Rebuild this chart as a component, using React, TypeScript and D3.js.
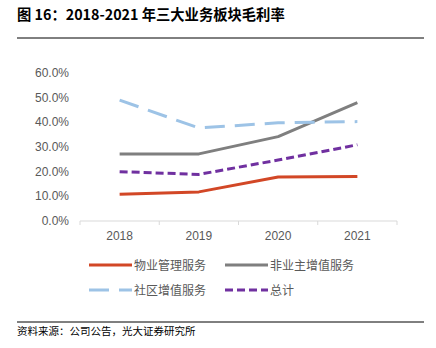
import React from "react";
import * as d3 from "d3";

const years = ["2018", "2019", "2020", "2021"];
const seriesNames = ["物业管理服务", "非业主增值服务", "社区增值服务", "总计"];
const propertyMgmt = [10.8, 11.8, 17.8, 18.0];
const nonOwnerVAS = [27.2, 27.2, 34.2, 48.0];
const communityVAS = [49.0, 37.7, 39.8, 40.3];
const total = [20.0, 18.9, 24.7, 30.9];
const yTicks = [0, 10, 20, 30, 40, 50, 60];

const styles = [
  { color: "#D24726", dash: "none" },
  { color: "#7F7F7F", dash: "none" },
  { color: "#9DC3E6", dash: "20,10" },
  { color: "#7030A0", dash: "8,4" },
];

export default function App() {
  const W = 436, H = 348;
  const x = d3.scaleBand().domain(years).range([80, 397]);
  const y = d3.scaleLinear().domain([0, 60]).range([221, 73]);
  const line = d3
    .line<number>()
    .x((_, i) => (x(years[i]) as number) + x.bandwidth() / 2)
    .y((d) => y(d));
  const allSeries = [propertyMgmt, nonOwnerVAS, communityVAS, total];
  const font = "'Liberation Sans', Arial, sans-serif";
  const cjk = "'Noto Sans CJK SC', sans-serif";
  const legendPos = [
    [89, 265],
    [225, 265],
    [89, 290],
    [225, 290],
  ];
  return (
    <svg width={W} height={H} style={{ position: "absolute", left: 0, top: 0, background: "#fff" }}>
      <text x={17} y={20} fontFamily={cjk} fontWeight="bold" fontSize={14.3} fill="#000">
        图 16：2018-2021 年三大业务板块毛利率
      </text>
      <line x1={17} x2={424} y1={38} y2={38} stroke="#000" strokeWidth={1} />
      {yTicks.map((t) => (
        <text key={t} x={69} y={y(t) + 4} textAnchor="end" fontFamily={font} fontSize={12} fill="#595959">
          {t.toFixed(1)}%
        </text>
      ))}
      <line x1={80} x2={397} y1={y(0)} y2={y(0)} stroke="#D9D9D9" strokeWidth={1} />
      {years.map((yr, i) => (
        <line key={"t" + i} x1={(x(yr) as number)} x2={(x(yr) as number)} y1={y(0)} y2={y(0) + 4} stroke="#D9D9D9" />
      ))}
      <line x1={397} x2={397} y1={y(0)} y2={y(0) + 4} stroke="#D9D9D9" />
      {years.map((yr) => (
        <text key={yr} x={(x(yr) as number) + x.bandwidth() / 2} y={240} textAnchor="middle" fontFamily={font} fontSize={12} fill="#595959">
          {yr}
        </text>
      ))}
      {allSeries.map((s, i) => (
        <path
          key={i}
          d={line(s) || ""}
          fill="none"
          stroke={styles[i].color}
          strokeWidth={3}
          strokeDasharray={styles[i].dash}
          strokeLinejoin="round"
        />
      ))}
      {seriesNames.map((n, i) => (
        <g key={n}>
          <line
            x1={legendPos[i][0]}
            x2={legendPos[i][0] + 43}
            y1={legendPos[i][1]}
            y2={legendPos[i][1]}
            stroke={styles[i].color}
            strokeWidth={3}
            strokeDasharray={styles[i].dash}
          />
          <text x={legendPos[i][0] + 45} y={legendPos[i][1] + 4.5} fontFamily={cjk} fontSize={12} fill="#595959">
            {n}
          </text>
        </g>
      ))}
      <line x1={17} x2={424} y1={322} y2={322} stroke="#000" strokeWidth={1} />
      <text x={17} y={335} fontFamily={cjk} fontSize={10.5} fill="#000">
        资料来源：公司公告，光大证券研究所
      </text>
    </svg>
  );
}
